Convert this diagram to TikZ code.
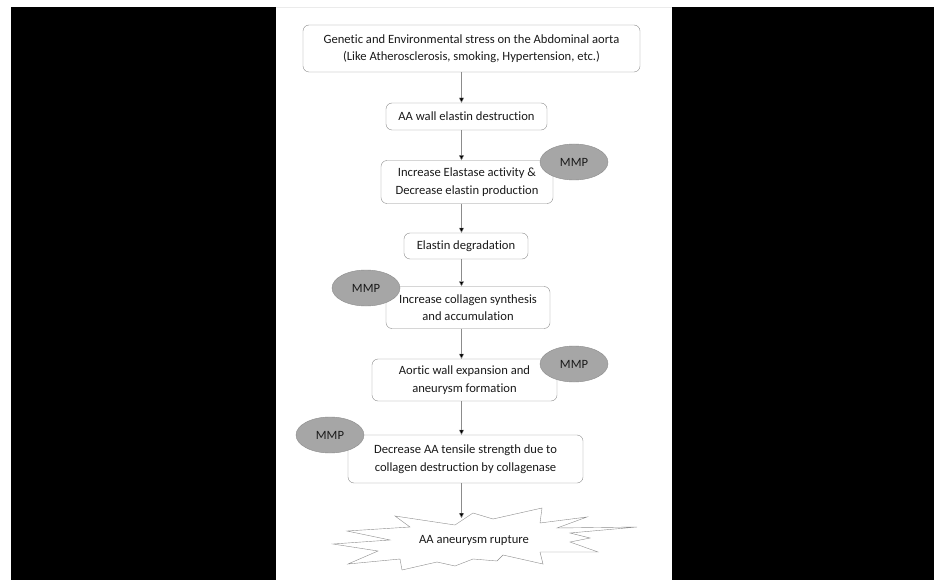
\documentclass[tikz,border=0pt]{standalone}
\usepackage{fontspec}
\setmainfont{Carlito}[Ligatures={NoCommon}]
\usetikzlibrary{arrows.meta,shapes.geometric}
\definecolor{lineg}{HTML}{8C8C8C}
\definecolor{mmpg}{HTML}{A6A6A6}
\definecolor{txt}{HTML}{1A1A1A}
\tikzset{
  stepbox/.style={draw=lineg, fill=white, rounded corners=6pt, align=center, inner sep=0pt, text=txt, font=\fontsize{12.6}{17.5}\selectfont},
  mmp/.style={ellipse, draw=lineg, fill=mmpg, minimum width=68pt, minimum height=36pt, inner sep=0pt, text=txt, font=\fontsize{12.6}{17.5}\selectfont},
  arr/.style={draw=lineg, -{Triangle[length=5pt,width=5pt,fill=black]}}
}
\begin{document}
\begin{tikzpicture}[x=1pt, y=-1pt]
\useasboundingbox (0,0) rectangle (934,580);
\fill[white] (0,0) rectangle (934,580);
\fill[black] (11,7) rectangle (276,580); % left band
\fill[black] (672,7) rectangle (934,580); % right band
\draw[black!8] (276,7) -- (672,7);
\coordinate (ax) at (461.5,0);

\node[stepbox, minimum width=337pt, minimum height=47pt] (b1) at (471.5,48.5) {Genetic and Environmental stress on the Abdominal aorta\\(Like Atherosclerosis, smoking, Hypertension, etc.)};
\node[stepbox, minimum width=161pt, minimum height=27pt] (b2) at (466.5,116.5) {AA wall elastin destruction};
\node[stepbox, minimum width=172pt, minimum height=43pt] (b3) at (467,182) {Increase Elastase activity \&\\Decrease elastin production};
\node[stepbox, minimum width=124pt, minimum height=26pt] (b4) at (466,246) {Elastin degradation};
\node[stepbox, minimum width=164pt, minimum height=42pt] (b5) at (468,307.5) {Increase collagen synthesis\\and accumulation};
\node[stepbox, minimum width=185pt, minimum height=42pt] (b6) at (464.5,380) {Aortic wall expansion and\\aneurysm formation};
\node[stepbox, minimum width=235pt, minimum height=48pt] (b7) at (465.5,459) {Decrease AA tensile strength due to\\collagen destruction by collagenase};

% MMP ellipses
\node[mmp] (m1) at (574,162) {MMP};
\node[mmp] (m2) at (366,288) {MMP};
\node[mmp] (m3) at (574,364) {MMP};
\node[mmp] (m4) at (330,435) {MMP};

% rupture burst
\filldraw[draw=lineg, fill=white] (395,516) -- (410,527) -- (347,531) -- (390,540) -- (333,544) -- (378,551) -- (348,564) -- (400,559) -- (402,570) -- (437,562) -- (455,566) -- (473,559) -- (497,561) -- (503,555) -- (543,564) -- (540,552) -- (598,552) -- (570,542) -- (590,538) -- (570,533) -- (637,527) -- (557,528) -- (587,517) -- (540,523) -- (542,508) -- (493,519) -- (473,513) -- (455,525) -- cycle;
\node[text=txt, font=\fontsize{12.6}{17.5}\selectfont] (rup) at (474,540) {AA aneurysm rupture};
\coordinate (hit) at (461.5,518);

\draw[arr] (b1.south -| ax) -- (b2.north -| ax);
\draw[arr] (b2.south -| ax) -- (b3.north -| ax);
\draw[arr] (b3.south -| ax) -- (b4.north -| ax);
\draw[arr] (b4.south -| ax) -- (b5.north -| ax);
\draw[arr] (b5.south -| ax) -- (b6.north -| ax);
\draw[arr] (b6.south -| ax) -- (b7.north -| ax);
\draw[arr] (b7.south -| ax) -- (hit);
\end{tikzpicture}
\end{document}
